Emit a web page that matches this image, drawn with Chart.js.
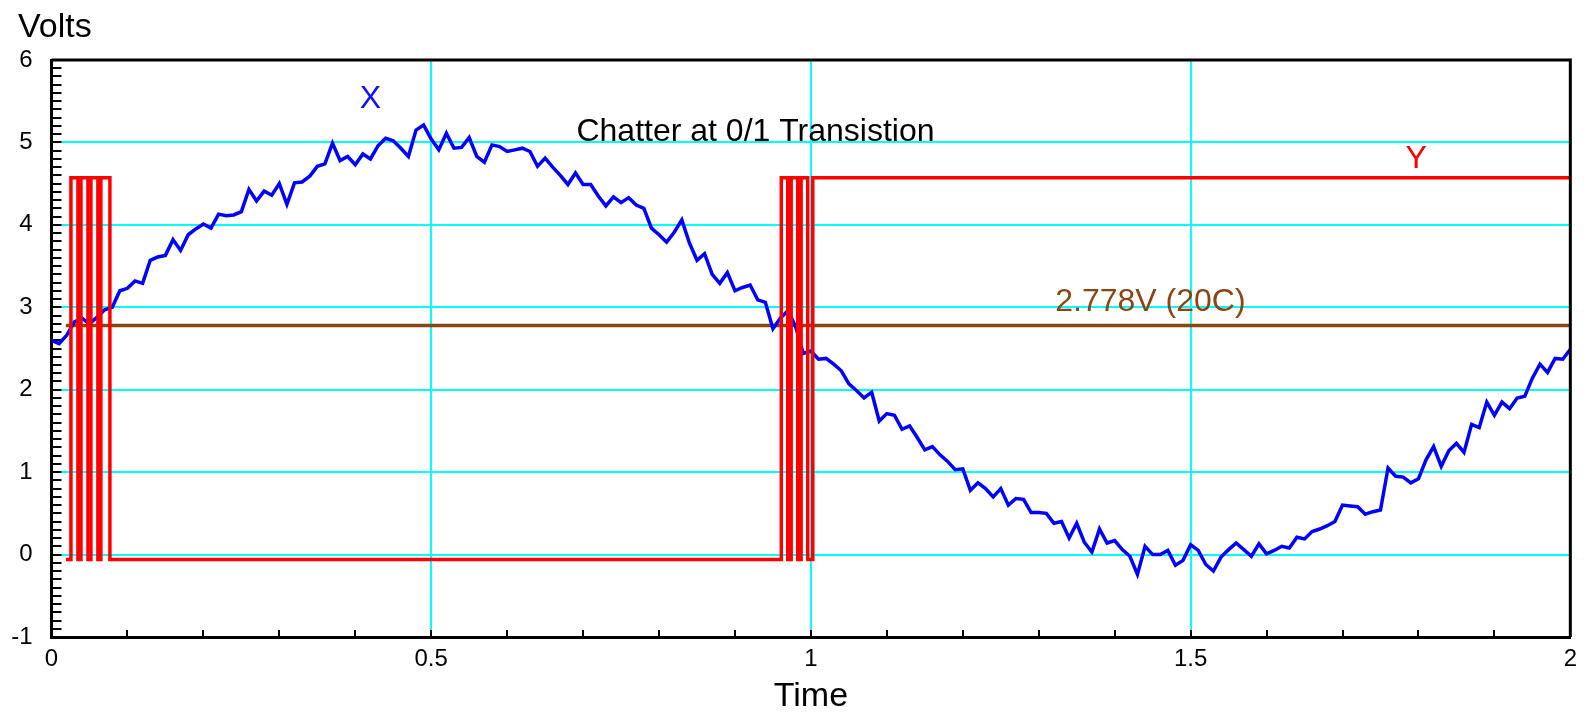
<!DOCTYPE html>
<html>
<head>
<meta charset="utf-8">
<title>Chatter at 0/1 Transistion</title>
<script src="https://cdn.jsdelivr.net/npm/chart.js@4.4.1/dist/chart.umd.min.js"></script>
<style>
  html, body { margin: 0; padding: 0; background: #fff; }
  #wrap { width: 1585px; height: 712px; position: relative; }
</style>
</head>
<body>
<div id="wrap"><canvas id="chatter-chart"></canvas></div>
<script>
// input X, sampled every 0.01 s from t = 0 to t = 2
const sampleStep = 0.01;
const xVolts = [
  2.60, 2.56, 2.66, 2.82, 2.87, 2.80, 2.88, 2.97, 3.00, 3.20,
  3.23, 3.32, 3.29, 3.57, 3.61, 3.63, 3.82, 3.69, 3.88, 3.95,
  4.01, 3.96, 4.13, 4.11, 4.12, 4.16, 4.43, 4.29, 4.41, 4.36,
  4.50, 4.25, 4.51, 4.52, 4.59, 4.71, 4.74, 4.99, 4.78, 4.83,
  4.73, 4.86, 4.80, 4.96, 5.05, 5.02, 4.93, 4.83, 5.15, 5.21,
  5.04, 4.91, 5.11, 4.93, 4.94, 5.06, 4.83, 4.76, 4.97, 4.95,
  4.89, 4.91, 4.93, 4.89, 4.71, 4.81, 4.70, 4.60, 4.49, 4.63,
  4.49, 4.49, 4.35, 4.23, 4.34, 4.27, 4.33, 4.24, 4.20, 3.96,
  3.88, 3.79, 3.91, 4.06, 3.78, 3.57, 3.65, 3.40, 3.29, 3.42,
  3.20, 3.24, 3.27, 3.09, 3.06, 2.74, 2.87, 2.96, 2.76, 2.44,
  2.47, 2.37, 2.38, 2.31, 2.23, 2.07, 1.99, 1.90, 1.97, 1.62,
  1.71, 1.69, 1.52, 1.56, 1.42, 1.27, 1.31, 1.21, 1.13, 1.03,
  1.04, 0.78, 0.87, 0.80, 0.70, 0.80, 0.60, 0.68, 0.67, 0.51,
  0.51, 0.50, 0.38, 0.40, 0.20, 0.38, 0.15, 0.03, 0.31, 0.14,
  0.17, 0.06, -0.02, -0.24, 0.10, 0.00, 0.00, 0.05, -0.13, -0.07,
  0.12, 0.05, -0.12, -0.20, -0.03, 0.06, 0.14, 0.06, -0.02, 0.13,
  0.01, 0.05, 0.10, 0.08, 0.21, 0.19, 0.28, 0.31, 0.35, 0.40,
  0.60, 0.59, 0.58, 0.49, 0.52, 0.54, 1.05, 0.95, 0.94, 0.87,
  0.92, 1.15, 1.31, 1.07, 1.26, 1.35, 1.24, 1.58, 1.54, 1.85,
  1.69, 1.85, 1.77, 1.90, 1.92, 2.14, 2.31, 2.21, 2.38, 2.37,
  2.49
];

// output Y: edge times and the level held after each edge
const yEdgeTimes = [0.019, 0.0256, 0.0348, 0.0388, 0.048, 0.0519, 0.0611, 0.065, 0.0769,
                    0.961, 0.9695, 0.974, 0.9826, 0.9871, 0.9958, 1.0025, 2.0];
const yLevels = [-0.06, 4.57, -0.06, 4.57, -0.06, 4.57, -0.06, 4.57, -0.06,
                 4.57, -0.06, 4.57, -0.06, 4.57, -0.06, 4.57, 4.57];

// threshold
const thresholdTimes = [0.019, 2.0];
const thresholdVolts = [2.778, 2.778];

const xTicks = [0, 0.5, 1, 1.5, 2];
const yTicks = [-1, 0, 1, 2, 3, 4, 5, 6];

// text notes, in data units
const noteTexts = ['X', 'Chatter at 0/1 Transistion', 'Y', '2.778V (20C)'];
const noteTimes = [0.42, 0.927, 1.797, 1.447];
const noteVolts = [5.53, 5.13, 4.80, 3.06];
const noteColors = ['#1010ff', '#000000', '#ff0000', '#8b4513'];

const FONT = '"Liberation Sans", Arial, Helvetica, sans-serif';
const CYAN = '#00ffff';

Chart.defaults.font.family = FONT;
Chart.defaults.font.size = 24;
Chart.defaults.color = '#000';

const pts = (xs, ys) => xs.map((x, i) => ({ x, y: ys[i] }));
const xPoints = xVolts.map((v, i) => ({ x: +(i * sampleStep).toFixed(2), y: v }));

const decorations = {
  id: 'decorations',
  beforeDatasetsDraw(chart) {
    const { ctx, chartArea: a, scales: { x, y } } = chart;
    ctx.save();
    ctx.strokeStyle = '#000';
    ctx.lineWidth = 2;
    ctx.beginPath();
    // minor ticks every 0.1, pointing into the plot
    for (let i = 0; i <= 70; i++) {
      const py = Math.round(y.getPixelForValue(-1 + i / 10));
      ctx.moveTo(a.left, py);
      ctx.lineTo(a.left + 10, py);
    }
    for (let i = 0; i <= 20; i++) {
      const px = Math.round(x.getPixelForValue(i / 10));
      ctx.moveTo(px, a.bottom);
      ctx.lineTo(px, a.bottom - 7);
    }
    ctx.stroke();
    ctx.restore();
  },
  afterDatasetsDraw(chart) {
    const { ctx, chartArea: a, scales: { x, y } } = chart;
    ctx.save();
    // top and right frame
    ctx.strokeStyle = '#000';
    ctx.lineWidth = 3;
    ctx.beginPath();
    ctx.moveTo(a.left, a.top);
    ctx.lineTo(a.right, a.top);
    ctx.lineTo(a.right, a.bottom);
    ctx.stroke();

    ctx.font = '32px ' + FONT;
    ctx.textAlign = 'center';
    ctx.textBaseline = 'middle';
    noteTexts.forEach((t, i) => {
      ctx.fillStyle = noteColors[i];
      ctx.fillText(t, x.getPixelForValue(noteTimes[i]), y.getPixelForValue(noteVolts[i]));
    });

    // axis caption above the y axis
    ctx.fillStyle = '#000';
    ctx.font = '34px ' + FONT;
    ctx.textAlign = 'left';
    ctx.textBaseline = 'alphabetic';
    ctx.fillText('Volts', 18, 37);
    ctx.restore();
  }
};

const innerGrid = (scaleMin, scaleMax) => (c) =>
  (c.tick && c.tick.value > scaleMin && c.tick.value < scaleMax) ? CYAN : 'rgba(0,0,0,0)';

new Chart(document.getElementById('chatter-chart'), {
  type: 'line',
  data: {
    datasets: [
      {
        label: 'Y',
        data: pts(yEdgeTimes, yLevels),
        borderColor: '#ff0000',
        borderWidth: 3.5,
        stepped: true,
        pointRadius: 0,
        borderJoinStyle: 'miter',
        order: 1
      },
      {
        label: 'X',
        data: xPoints,
        borderColor: '#0000ff',
        borderWidth: 3.5,
        tension: 0,
        pointRadius: 0,
        order: 2
      },
      {
        label: '2.778V (20C)',
        data: pts(thresholdTimes, thresholdVolts),
        borderColor: '#8b4513',
        borderWidth: 3.5,
        pointRadius: 0,
        order: 3
      }
    ]
  },
  options: {
    responsive: true,
    maintainAspectRatio: false,
    animation: false,
    events: [],
    layout: { padding: { left: 0, right: 11, top: 60, bottom: 0 } },
    plugins: {
      legend: { display: false },
      tooltip: { enabled: false }
    },
    scales: {
      x: {
        type: 'linear',
        min: 0,
        max: 2,
        afterBuildTicks: (s) => { s.ticks = xTicks.map(v => ({ value: v })); },
        afterFit: (s) => { s.height = 75; },
        ticks: {
          padding: 8,
          font: { family: FONT, size: 24 },
          maxRotation: 0,
          callback: (v) => String(v)
        },
        grid: { color: innerGrid(0, 2), lineWidth: 2, drawTicks: false },
        border: { display: true, color: '#000', width: 3 },
        title: {
          display: true,
          text: 'Time',
          font: { size: 34, lineHeight: 0.9 },
          padding: { top: 0, bottom: 0 }
        }
      },
      y: {
        type: 'linear',
        min: -1,
        max: 6,
        afterBuildTicks: (s) => { s.ticks = yTicks.map(v => ({ value: v })); },
        afterFit: (s) => { s.width = 51.5; },
        ticks: {
          padding: 19,
          font: { family: FONT, size: 24 },
          callback: (v) => String(v)
        },
        grid: { color: innerGrid(-1, 6), lineWidth: 2, drawTicks: false },
        border: { display: true, color: '#000', width: 3 }
      }
    }
  },
  plugins: [decorations]
});
</script>
</body>
</html>
